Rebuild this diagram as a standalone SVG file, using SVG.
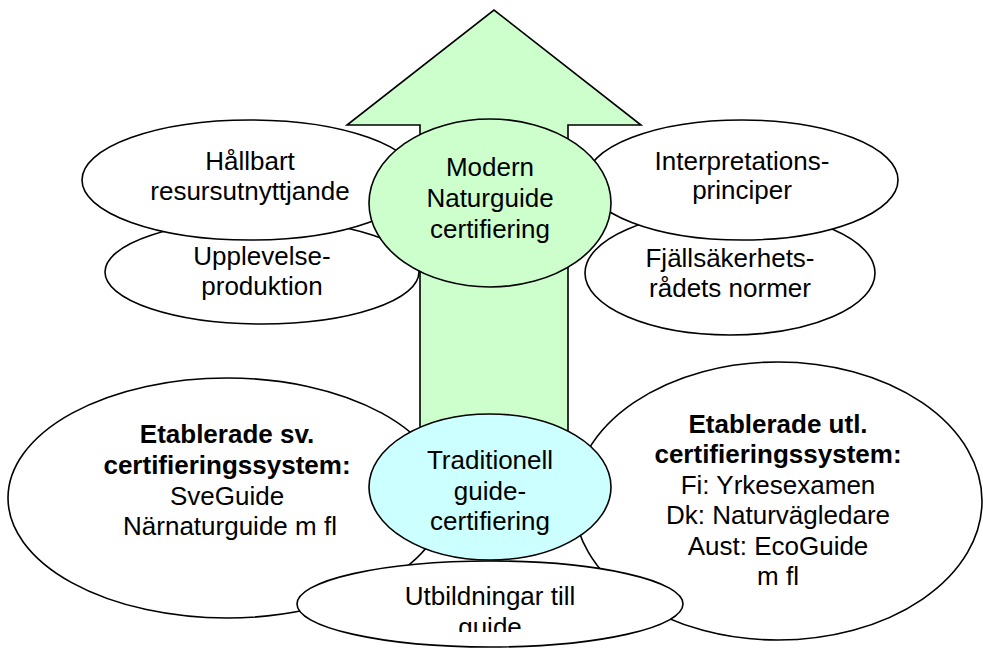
<svg xmlns="http://www.w3.org/2000/svg" width="983" height="648" viewBox="0 0 983 648">
<style>
  .sh { stroke: #000; stroke-width: 1.6; }
  .w { fill: #fff; }
  .g { fill: #CCFFCC; }
  .b { fill: #CCFFFF; }
  text { font-family: "Liberation Sans", Arial, sans-serif; font-size: 26px; fill: #000; text-anchor: middle; }
  .bd { font-weight: bold; }
</style>
<defs>
  <clipPath id="clipU"><rect x="290" y="555" width="400" height="77"/></clipPath>
</defs>
<rect width="983" height="648" fill="#fff"/>

<g id="etablerade-sv">
  <ellipse class="sh w" cx="227" cy="498" rx="219" ry="120"/>
  <text class="bd" x="227" y="443">Etablerade sv.</text>
  <text class="bd" x="227" y="474">certifieringssystem:</text>
  <text x="227" y="505">SveGuide</text>
  <text x="230" y="535">Närnaturguide m fl</text>
</g>

<g id="etablerade-utl">
  <ellipse class="sh w" cx="778" cy="501" rx="204" ry="139"/>
  <text class="bd" x="778" y="433">Etablerade utl.</text>
  <text class="bd" x="778" y="463">certifieringssystem:</text>
  <text x="778" y="494">Fi: Yrkesexamen</text>
  <text x="778" y="524">Dk: Naturvägledare</text>
  <text x="778" y="555">Aust: EcoGuide</text>
  <text x="778" y="585">m fl</text>
</g>

<g id="upplevelse">
  <ellipse class="sh w" cx="262" cy="272" rx="157" ry="52"/>
  <text x="262" y="265">Upplevelse-</text>
  <text x="262" y="295">produktion</text>
</g>

<g id="hallbart">
  <ellipse class="sh w" cx="250" cy="180" rx="168" ry="60"/>
  <text x="250" y="170">Hållbart</text>
  <text x="250" y="200">resursutnyttjande</text>
</g>

<g id="fjall">
  <ellipse class="sh w" cx="730" cy="273" rx="145" ry="62"/>
  <text x="730" y="267">Fjällsäkerhets-</text>
  <text x="730" y="297">rådets normer</text>
</g>

<g id="interpretations">
  <ellipse class="sh w" cx="742" cy="180" rx="156" ry="60"/>
  <text x="742" y="170">Interpretations-</text>
  <text x="742" y="199">principer</text>
</g>

<g id="connectors">
  <polygon id="arrow" class="sh g" points="420,470 420,125 347,125 494,10 641,125 568,125 568,470"/>
</g>

<g id="modern">
  <ellipse class="sh g" cx="490" cy="203" rx="121" ry="84"/>
  <text x="490" y="176">Modern</text>
  <text x="490" y="207">Naturguide</text>
  <text x="490" y="238">certifiering</text>
</g>

<g id="traditionell">
  <ellipse class="sh b" cx="490" cy="487" rx="121" ry="73"/>
  <text x="490" y="469">Traditionell</text>
  <text x="490" y="500">guide-</text>
  <text x="490" y="530">certifiering</text>
</g>

<g id="utbildningar">
  <ellipse class="sh w" cx="490" cy="604" rx="193" ry="43"/>
  <g clip-path="url(#clipU)">
    <text x="490" y="605">Utbildningar till</text>
    <text x="490" y="636">guide</text>
  </g>
</g>
</svg>
